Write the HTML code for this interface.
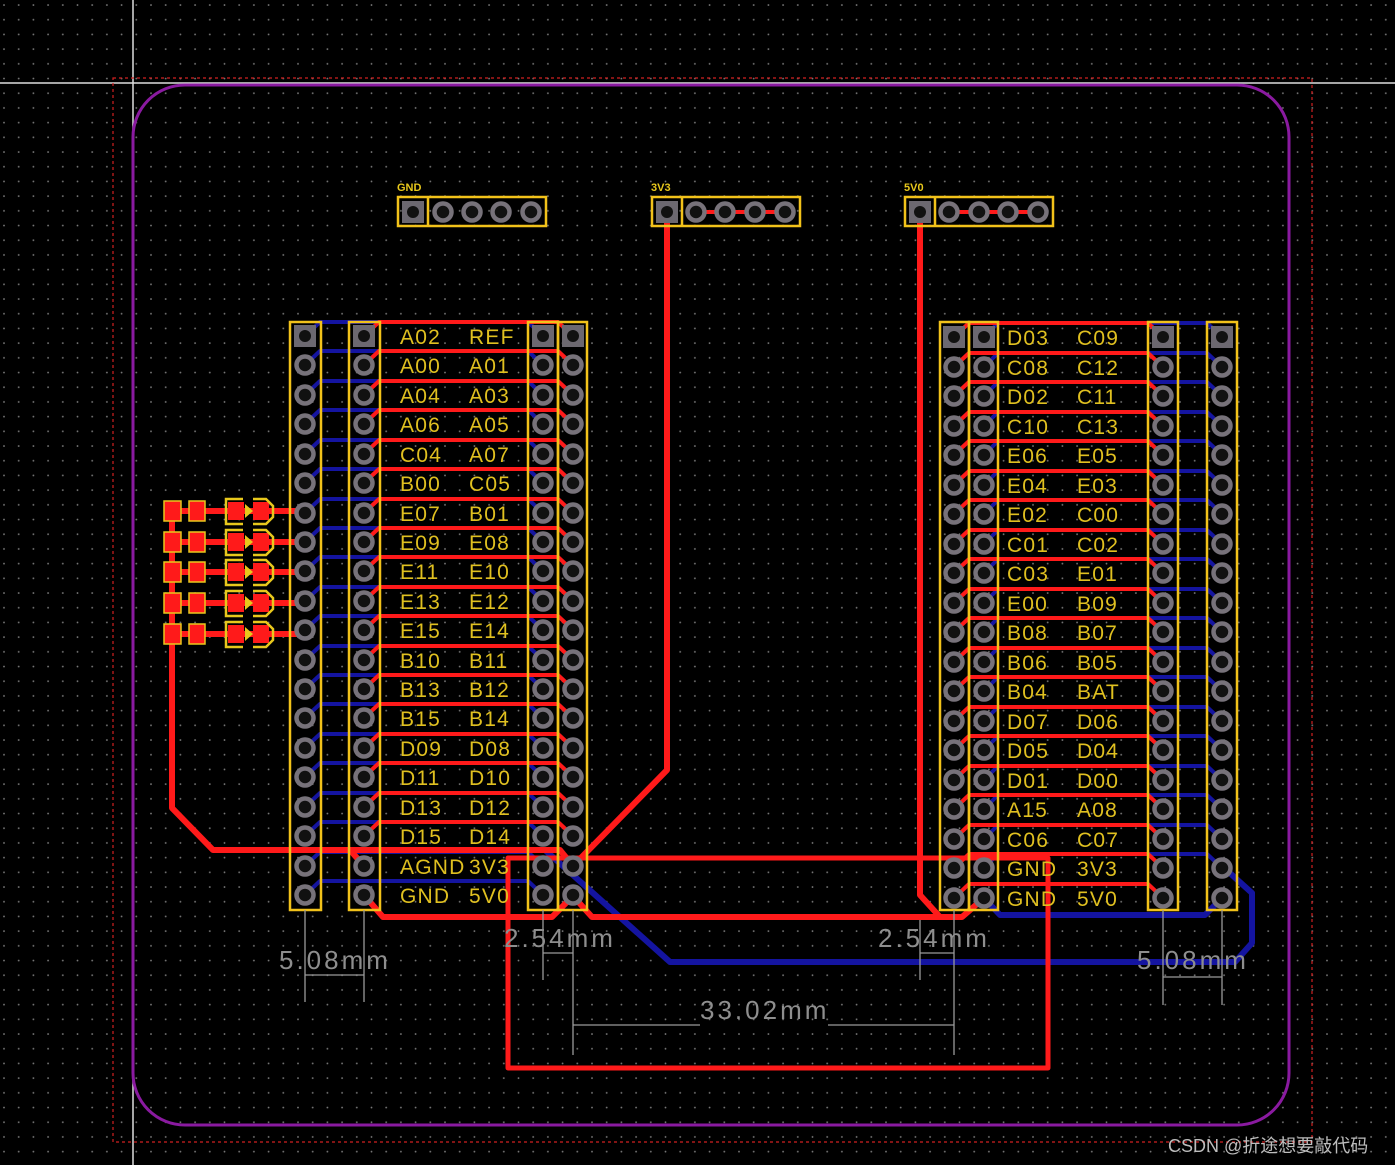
<!DOCTYPE html>
<html><head><meta charset="utf-8"><style>
html,body{margin:0;padding:0;background:#000;}
svg{display:block}
.lab{font-family:"Liberation Sans","DejaVu Sans",sans-serif;font-size:21px;fill:#e0c020;letter-spacing:1.2px;}
.dim{font-family:"Liberation Sans","DejaVu Sans",sans-serif;font-size:26px;fill:#8e8e8e;letter-spacing:3px;}
</style></head><body>
<svg width="1395" height="1165" viewBox="0 0 1395 1165" xmlns="http://www.w3.org/2000/svg">
<defs>
<pattern id="g" x="3" y="4" width="14.7" height="14.7" patternUnits="userSpaceOnUse"><circle cx="1" cy="1" r="0.9" fill="#7a7a7a"/></pattern>
<g id="p"><circle r="8.5" fill="#111" stroke="#77727a" stroke-width="4.5"/></g>
<g id="s"><rect x="-11" y="-11" width="22" height="22" fill="#6c6870"/><circle r="6" fill="#111"/></g>
</defs>
<rect width="1395" height="1165" fill="#000"/>
<rect width="1395" height="1165" fill="url(#g)"/>
<line x1="0" y1="83" x2="1395" y2="83" stroke="#ddd" stroke-width="1.5"/>
<line x1="133" y1="0" x2="133" y2="1165" stroke="#ddd" stroke-width="1.5"/>
<rect x="113" y="78" width="1199" height="1064" fill="none" stroke="#d02020" stroke-width="1.2" stroke-dasharray="3,3"/>
<rect x="133" y="85" width="1156" height="1040" rx="52" fill="none" stroke="#8a1aa0" stroke-width="3"/>

<!-- blue traces -->
<g fill="none" stroke="#1414a0" stroke-width="4" stroke-linejoin="round">
<polyline points="305,336 320,322 528,322 543,336"/>
<polyline points="305,365 320,351 528,351 543,365"/>
<polyline points="305,395 320,381 528,381 543,395"/>
<polyline points="305,424 320,410 528,410 543,424"/>
<polyline points="305,454 320,440 528,440 543,454"/>
<polyline points="305,483 320,469 528,469 543,483"/>
<polyline points="305,513 320,499 528,499 543,513"/>
<polyline points="305,542 320,528 528,528 543,542"/>
<polyline points="305,571 320,557 528,557 543,571"/>
<polyline points="305,601 320,587 528,587 543,601"/>
<polyline points="305,630 320,616 528,616 543,630"/>
<polyline points="305,660 320,646 528,646 543,660"/>
<polyline points="305,689 320,675 528,675 543,689"/>
<polyline points="305,718 320,704 528,704 543,718"/>
<polyline points="305,748 320,734 528,734 543,748"/>
<polyline points="305,777 320,763 528,763 543,777"/>
<polyline points="305,807 320,793 528,793 543,807"/>
<polyline points="305,836 320,822 528,822 543,836"/>
<polyline points="305,866 320,852 528,852 543,866"/>
<polyline points="305,895 320,881 528,881 543,895"/>
<polyline points="984,337 998,323 1207,323 1222,337"/>
<polyline points="984,367 998,353 1207,353 1222,367"/>
<polyline points="984,396 998,382 1207,382 1222,396"/>
<polyline points="984,426 998,412 1207,412 1222,426"/>
<polyline points="984,455 998,441 1207,441 1222,455"/>
<polyline points="984,485 998,471 1207,471 1222,485"/>
<polyline points="984,514 998,500 1207,500 1222,514"/>
<polyline points="984,544 998,530 1207,530 1222,544"/>
<polyline points="984,573 998,559 1207,559 1222,573"/>
<polyline points="984,603 998,589 1207,589 1222,603"/>
<polyline points="984,632 998,618 1207,618 1222,632"/>
<polyline points="984,662 998,648 1207,648 1222,662"/>
<polyline points="984,691 998,677 1207,677 1222,691"/>
<polyline points="984,721 998,707 1207,707 1222,721"/>
<polyline points="984,750 998,736 1207,736 1222,750"/>
<polyline points="984,780 998,766 1207,766 1222,780"/>
<polyline points="984,809 998,795 1207,795 1222,809"/>
<polyline points="984,839 998,825 1207,825 1222,839"/>
<polyline points="984,868 998,854 1207,854 1222,868"/>
</g>
<g fill="none" stroke="#1414a0" stroke-width="6" stroke-linejoin="round">
<polyline points="984,898 1000,915 1205,915 1222,898"/>
<polyline points="545,850 670,962 1235,962 1252,943 1252,893 1222,866"/>
</g>

<!-- red traces -->
<g fill="none" stroke="#ff1a1a" stroke-width="4" stroke-linejoin="round">
<polyline points="364,336 379,322 558,322 573,336"/>
<polyline points="364,365 379,351 558,351 573,365"/>
<polyline points="364,395 379,381 558,381 573,395"/>
<polyline points="364,424 379,410 558,410 573,424"/>
<polyline points="364,454 379,440 558,440 573,454"/>
<polyline points="364,483 379,469 558,469 573,483"/>
<polyline points="364,513 379,499 558,499 573,513"/>
<polyline points="364,542 379,528 558,528 573,542"/>
<polyline points="364,571 379,557 558,557 573,571"/>
<polyline points="364,601 379,587 558,587 573,601"/>
<polyline points="364,630 379,616 558,616 573,630"/>
<polyline points="364,660 379,646 558,646 573,660"/>
<polyline points="364,689 379,675 558,675 573,689"/>
<polyline points="364,718 379,704 558,704 573,718"/>
<polyline points="364,748 379,734 558,734 573,748"/>
<polyline points="364,777 379,763 558,763 573,777"/>
<polyline points="364,807 379,793 558,793 573,807"/>
<polyline points="364,836 379,822 558,822 573,836"/>
<polyline points="954,337 969,323 1148,323 1163,337"/>
<polyline points="954,367 969,353 1148,353 1163,367"/>
<polyline points="954,396 969,382 1148,382 1163,396"/>
<polyline points="954,426 969,412 1148,412 1163,426"/>
<polyline points="954,455 969,441 1148,441 1163,455"/>
<polyline points="954,485 969,471 1148,471 1163,485"/>
<polyline points="954,514 969,500 1148,500 1163,514"/>
<polyline points="954,544 969,530 1148,530 1163,544"/>
<polyline points="954,573 969,559 1148,559 1163,573"/>
<polyline points="954,603 969,589 1148,589 1163,603"/>
<polyline points="954,632 969,618 1148,618 1163,632"/>
<polyline points="954,662 969,648 1148,648 1163,662"/>
<polyline points="954,691 969,677 1148,677 1163,691"/>
<polyline points="954,721 969,707 1148,707 1163,721"/>
<polyline points="954,750 969,736 1148,736 1163,750"/>
<polyline points="954,780 969,766 1148,766 1163,780"/>
<polyline points="954,809 969,795 1148,795 1163,809"/>
<polyline points="954,839 969,825 1148,825 1163,839"/>
<polyline points="954,868 969,854 1148,854 1163,868"/>
<polyline points="954,898 969,884 1148,884 1163,898"/>
<polyline points="696,212 785,212"/>
<polyline points="949,212 1038,212"/>
</g>
<g fill="none" stroke="#ff1a1a" stroke-width="6" stroke-linejoin="round">
<polyline points="172,511 172,808 213,850 560,850 573,866"/>
<polyline points="350,850 364,866"/>
<polyline points="667,212 667,770 573,866"/>
<polyline points="364,895 383,917 552,917 573,896 592,917 940,917"/>
<polyline points="920,212 920,895 940,917 962,917 984,898"/>
<line x1="180" y1="511" x2="305" y2="511"/><line x1="180" y1="542" x2="305" y2="542"/>
<line x1="180" y1="572" x2="305" y2="572"/><line x1="180" y1="603" x2="305" y2="603"/>
<line x1="180" y1="634" x2="305" y2="634"/>
<rect x="508" y="858" width="540" height="210" stroke-width="5"/>
</g>

<!-- LEDs -->
<g fill="#ff1a1a" stroke="#e8c81c" stroke-width="1.5">
<g id="led"><rect x="164" y="501" width="17" height="20"/><rect x="189" y="501" width="16" height="20"/>
<rect x="228" y="502" width="16" height="18" stroke="none"/><rect x="253" y="502" width="16" height="18" stroke="none"/>
<path d="M243,499 H226 V524 H243 M253,499 H266 L273,506 V517 L266,524 H253" fill="none" stroke-width="2.5"/>
<path d="M245,504 L253,511 L245,518Z" fill="#e8c81c" stroke="none"/></g>
<use href="#led" y="31"/><use href="#led" y="61"/><use href="#led" y="92"/><use href="#led" y="123"/>
</g>

<!-- pins -->
<g>
<use href="#s" x="305" y="336"/><use href="#s" x="364" y="336"/><use href="#s" x="543" y="336"/><use href="#s" x="573" y="336"/>
<g id="colL"><use href="#p" x="305" y="365"/><use href="#p" x="305" y="395"/><use href="#p" x="305" y="424"/><use href="#p" x="305" y="454"/><use href="#p" x="305" y="483"/><use href="#p" x="305" y="513"/><use href="#p" x="305" y="542"/><use href="#p" x="305" y="571"/><use href="#p" x="305" y="601"/><use href="#p" x="305" y="630"/><use href="#p" x="305" y="660"/><use href="#p" x="305" y="689"/><use href="#p" x="305" y="718"/><use href="#p" x="305" y="748"/><use href="#p" x="305" y="777"/><use href="#p" x="305" y="807"/><use href="#p" x="305" y="836"/><use href="#p" x="305" y="866"/><use href="#p" x="305" y="895"/></g>
<use href="#colL" x="59"/><use href="#colL" x="238"/><use href="#colL" x="268"/>
<use href="#s" x="954" y="337"/><use href="#s" x="984" y="337"/><use href="#s" x="1163" y="337"/><use href="#s" x="1222" y="337"/>
<g id="colR"><use href="#p" x="954" y="367"/><use href="#p" x="954" y="396"/><use href="#p" x="954" y="426"/><use href="#p" x="954" y="455"/><use href="#p" x="954" y="485"/><use href="#p" x="954" y="514"/><use href="#p" x="954" y="544"/><use href="#p" x="954" y="573"/><use href="#p" x="954" y="603"/><use href="#p" x="954" y="632"/><use href="#p" x="954" y="662"/><use href="#p" x="954" y="691"/><use href="#p" x="954" y="721"/><use href="#p" x="954" y="750"/><use href="#p" x="954" y="780"/><use href="#p" x="954" y="809"/><use href="#p" x="954" y="839"/><use href="#p" x="954" y="868"/><use href="#p" x="954" y="898"/></g>
<use href="#colR" x="30"/><use href="#colR" x="209"/><use href="#colR" x="268"/>
<use href="#s" x="413" y="212"/><use href="#p" x="443" y="212"/><use href="#p" x="472" y="212"/><use href="#p" x="501" y="212"/><use href="#p" x="531" y="212"/>
<use href="#s" x="667" y="212"/><use href="#p" x="696" y="212"/><use href="#p" x="725" y="212"/><use href="#p" x="755" y="212"/><use href="#p" x="785" y="212"/>
<use href="#s" x="920" y="212"/><use href="#p" x="949" y="212"/><use href="#p" x="979" y="212"/><use href="#p" x="1008" y="212"/><use href="#p" x="1038" y="212"/>
</g>

<!-- silkscreen boxes -->
<g fill="none" stroke="#f2c21a" stroke-width="2.5">
<rect x="290" y="322" width="31" height="588"/><rect x="349" y="322" width="31" height="588"/>
<rect x="528" y="322" width="30" height="588"/><rect x="558" y="322" width="29" height="588"/>
<rect x="940" y="322" width="29" height="588"/><rect x="969" y="322" width="29" height="588"/>
<rect x="1148" y="322" width="30" height="588"/><rect x="1207" y="322" width="30" height="588"/>
<rect x="398" y="197" width="148" height="29"/><line x1="428" y1="197" x2="428" y2="226"/>
<rect x="652" y="197" width="148" height="29"/><line x1="682" y1="197" x2="682" y2="226"/>
<rect x="905" y="197" width="148" height="29"/><line x1="935" y1="197" x2="935" y2="226"/>
</g>
<g style="font-family:'Liberation Sans',sans-serif;font-size:11px;font-weight:bold;fill:#e8c81c">
<text x="397" y="191">GND</text><text x="651" y="191">3V3</text><text x="904" y="191">5V0</text>
</g>

<!-- labels -->
<g class="lab">
<text x="400" y="344">A02</text><text x="469" y="344">REF</text>
<text x="400" y="373">A00</text><text x="469" y="373">A01</text>
<text x="400" y="403">A04</text><text x="469" y="403">A03</text>
<text x="400" y="432">A06</text><text x="469" y="432">A05</text>
<text x="400" y="462">C04</text><text x="469" y="462">A07</text>
<text x="400" y="491">B00</text><text x="469" y="491">C05</text>
<text x="400" y="521">E07</text><text x="469" y="521">B01</text>
<text x="400" y="550">E09</text><text x="469" y="550">E08</text>
<text x="400" y="579">E11</text><text x="469" y="579">E10</text>
<text x="400" y="609">E13</text><text x="469" y="609">E12</text>
<text x="400" y="638">E15</text><text x="469" y="638">E14</text>
<text x="400" y="668">B10</text><text x="469" y="668">B11</text>
<text x="400" y="697">B13</text><text x="469" y="697">B12</text>
<text x="400" y="726">B15</text><text x="469" y="726">B14</text>
<text x="400" y="756">D09</text><text x="469" y="756">D08</text>
<text x="400" y="785">D11</text><text x="469" y="785">D10</text>
<text x="400" y="815">D13</text><text x="469" y="815">D12</text>
<text x="400" y="844">D15</text><text x="469" y="844">D14</text>
<text x="400" y="874">AGND</text><text x="469" y="874">3V3</text>
<text x="400" y="903">GND</text><text x="469" y="903">5V0</text>
<text x="1007" y="345">D03</text><text x="1077" y="345">C09</text>
<text x="1007" y="375">C08</text><text x="1077" y="375">C12</text>
<text x="1007" y="404">D02</text><text x="1077" y="404">C11</text>
<text x="1007" y="434">C10</text><text x="1077" y="434">C13</text>
<text x="1007" y="463">E06</text><text x="1077" y="463">E05</text>
<text x="1007" y="493">E04</text><text x="1077" y="493">E03</text>
<text x="1007" y="522">E02</text><text x="1077" y="522">C00</text>
<text x="1007" y="552">C01</text><text x="1077" y="552">C02</text>
<text x="1007" y="581">C03</text><text x="1077" y="581">E01</text>
<text x="1007" y="611">E00</text><text x="1077" y="611">B09</text>
<text x="1007" y="640">B08</text><text x="1077" y="640">B07</text>
<text x="1007" y="670">B06</text><text x="1077" y="670">B05</text>
<text x="1007" y="699">B04</text><text x="1077" y="699">BAT</text>
<text x="1007" y="729">D07</text><text x="1077" y="729">D06</text>
<text x="1007" y="758">D05</text><text x="1077" y="758">D04</text>
<text x="1007" y="788">D01</text><text x="1077" y="788">D00</text>
<text x="1007" y="817">A15</text><text x="1077" y="817">A08</text>
<text x="1007" y="847">C06</text><text x="1077" y="847">C07</text>
<text x="1007" y="876">GND</text><text x="1077" y="876">3V3</text>
<text x="1007" y="906">GND</text><text x="1077" y="906">5V0</text>
</g>

<!-- dimensions -->
<g stroke="#9a9a9a" stroke-width="1.3" fill="none">
<line x1="305" y1="910" x2="305" y2="1002"/><line x1="364" y1="910" x2="364" y2="1002"/>
<line x1="305" y1="975" x2="364" y2="975"/>
<line x1="543" y1="910" x2="543" y2="980"/><line x1="573" y1="910" x2="573" y2="1055"/>
<line x1="543" y1="953" x2="573" y2="953"/>
<line x1="920" y1="920" x2="920" y2="980"/><line x1="954" y1="910" x2="954" y2="1055"/>
<line x1="920" y1="953" x2="954" y2="953"/>
<line x1="573" y1="1025" x2="700" y2="1025"/><line x1="828" y1="1025" x2="954" y2="1025"/>
<line x1="1163" y1="910" x2="1163" y2="1005"/><line x1="1222" y1="910" x2="1222" y2="1005"/>
<line x1="1163" y1="977" x2="1222" y2="977"/>
</g>
<g class="dim">
<text x="279" y="969">5.08mm</text>
<text x="504" y="947">2.54mm</text>
<text x="878" y="947">2.54mm</text>
<text x="700" y="1019">33.02mm</text>
<text x="1137" y="969">5.08mm</text>
</g>
<text x="1168" y="1152" style="font-family:'Liberation Sans','Noto Sans CJK SC',sans-serif;font-size:18px;fill:#bdbdbd">CSDN @折途想要敲代码</text>
</svg>
</body></html>
